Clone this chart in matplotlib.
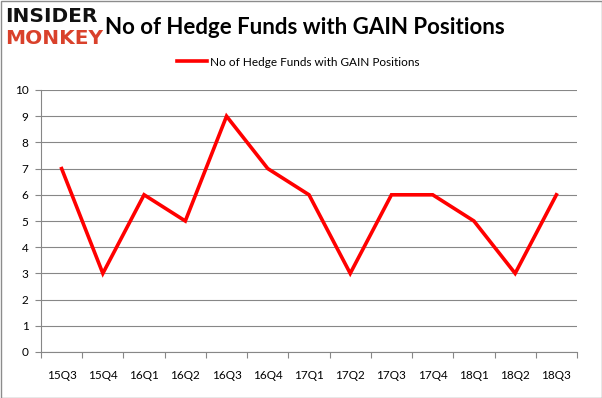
import matplotlib
matplotlib.use("Agg")
import matplotlib.pyplot as plt
import numpy as np
from matplotlib.patches import Rectangle

quarters = ["15Q3", "15Q4", "16Q1", "16Q2", "16Q3", "16Q4", "17Q1", "17Q2",
            "17Q3", "17Q4", "18Q1", "18Q2", "18Q3"]
funds = [7, 3, 6, 5, 9, 7, 6, 3, 6, 6, 5, 3, 6]
yticks = list(range(0, 11))
series_name = "No of Hedge Funds with GAIN Positions"
title = "No of Hedge Funds with GAIN Positions"

plt.rcParams['font.family'] = ['Lato', 'DejaVu Sans']

fig = plt.figure(figsize=(6.02, 3.98), dpi=100)
ax = fig.add_axes([41/602, 46/398, 536/602, 262/398])

x = np.arange(len(quarters))
ax.plot(x, funds, color="#ff0000", linewidth=2.6, label=series_name, solid_joinstyle="miter")

ax.set_xlim(-0.5, len(quarters) - 0.5)
ax.set_ylim(0, 10)
ax.set_yticks(yticks)
ax.set_yticklabels([str(v) for v in yticks], fontsize=8.5)
ax.set_xticks(x)
ax.set_xticklabels(quarters, fontsize=8.5)
ax.set_xticks(np.arange(-0.5, len(quarters), 1), minor=True)
ax.tick_params(axis="x", which="major", length=0, pad=13)
ax.tick_params(axis="x", which="minor", length=4, color="#878787", width=0.8)
ax.tick_params(axis="y", length=4, color="#878787", width=0.8, pad=5)
ax.grid(axis="y", color="#878787", linewidth=0.8)
ax.set_axisbelow(True)
for s in ["top", "right"]:
    ax.spines[s].set_visible(False)
for s in ["left", "bottom"]:
    ax.spines[s].set_color("#878787")
    ax.spines[s].set_linewidth(0.8)

leg = fig.legend(loc="center", bbox_to_anchor=(298/602, 1 - 62/398), frameon=False,
                 fontsize=8.5, handlelength=2.6, handletextpad=0.2)

fig.text(305/602, 1 - 27/398, title, fontsize=16, fontweight="bold",
         ha="center", va="center")

# logo
fig.text(5/602, 1 - 16/398, "INSIDER", fontsize=14.5, fontweight="bold",
         color="#111111", ha="left", va="center", family="DejaVu Sans")
fig.text(5/602, 1 - 39/398, "MONKEY", fontsize=14.5, fontweight="bold",
         color="#d9412b", ha="left", va="center", family="DejaVu Sans")

fig.patches.append(Rectangle((0.5/602, 0.5/398), 1 - 1/602, 1 - 1/398,
                             transform=fig.transFigure, fill=False,
                             edgecolor="#8c8c8c", linewidth=1))

fig.savefig("out.png", dpi=100)
